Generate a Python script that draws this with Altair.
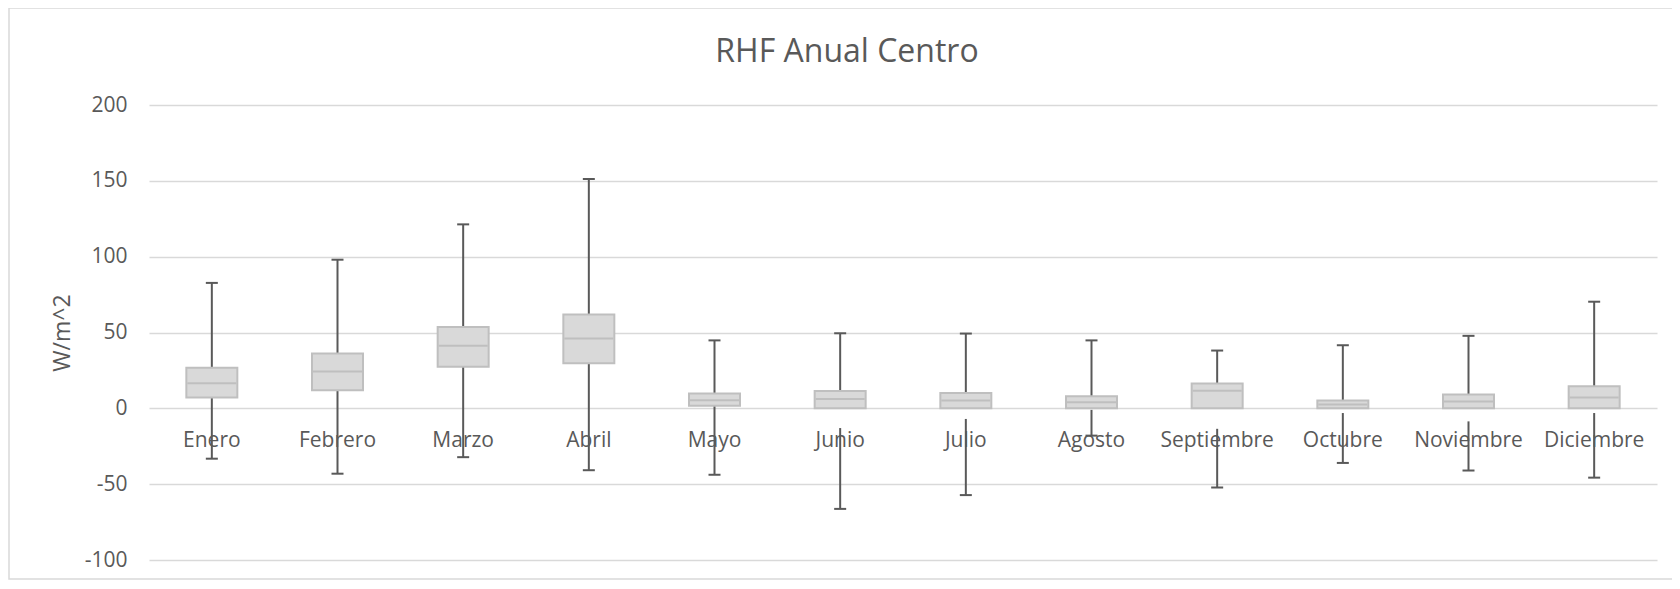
import altair as alt
import pandas as pd

months = ["Enero", "Febrero", "Marzo", "Abril", "Mayo", "Junio", "Julio",
          "Agosto", "Septiembre", "Octubre", "Noviembre", "Diciembre"]
maxs = [82.7, 98.0, 121.3, 151.2, 44.8, 49.5, 49.3, 44.8, 38.1, 41.6, 47.8, 70.3]
q3 = [26.7, 36.1, 53.7, 61.9, 9.7, 11.4, 10.1, 7.9, 16.3, 5.2, 9.2, 14.6]
medians = [16.6, 24.3, 41.3, 46.0, 5.4, 6.2, 5.2, 4.0, 11.6, 2.5, 4.5, 7.2]
q1 = [7.2, 11.9, 27.5, 29.7, 1.7, -13.0, -7.0, -1.0, -13.5, -3.1, -8.6, -3.1]
mins = [-33.2, -43.1, -32.2, -40.8, -43.8, -66.3, -57.2, -18.0, -52.2, -36.0, -41.0, -45.7]
y_ticks = [-100, -50, 0, 50, 100, 150, 200]

df = pd.DataFrame({"mes": months, "max": maxs, "q3": q3, "mediana": medians,
                   "q1": q1, "min": mins})

FONT = "Open Sans"
TXT = "#595959"
W, H = 1508, 455

x = alt.X("mes:N", sort=months, axis=None,
          scale=alt.Scale(paddingInner=0, paddingOuter=0))
yscale = alt.Scale(domain=[-100, 200], nice=False)

base = alt.Chart(df)

y_axis = alt.Axis(values=y_ticks, grid=True, gridColor="#D9D9D9", gridWidth=1.5,
                  domain=False, ticks=False, labelPadding=22, labelFontSize=21,
                  labelFont=FONT, labelColor=TXT, labelExpr="'' + datum.value",
                  title="W/m^2", titleFont=FONT,
                  titleFontSize=23, titleColor=TXT, titleFontWeight="normal",
                  titleX=-87, titleY=H / 2, titleBaseline="middle", titleAlign="center")

upper = base.mark_rule(color=TXT, strokeWidth=2).encode(
    x=x, y=alt.Y("q3:Q", scale=yscale, axis=y_axis), y2="max:Q")
lower = base.mark_rule(color=TXT, strokeWidth=2).encode(
    x=x, y=alt.Y("q1:Q", scale=yscale), y2="min:Q")
cap_top = base.mark_tick(color=TXT, size=12, thickness=2, opacity=1).encode(
    x=x, y=alt.Y("max:Q", scale=yscale))
cap_bot = base.mark_tick(color=TXT, size=12, thickness=2, opacity=1).encode(
    x=x, y=alt.Y("min:Q", scale=yscale))
box = base.transform_calculate(lo="max(datum.q1, 0)").mark_bar(
    size=51, fill="#D9D9D9", stroke="#BFBFBF", strokeWidth=2).encode(
    x=x, y=alt.Y("lo:Q", scale=yscale), y2="q3:Q")
med = base.mark_tick(color="#BFBFBF", size=49, thickness=2, opacity=1).encode(
    x=x, y=alt.Y("mediana:Q", scale=yscale))
labels = base.mark_text(font=FONT, fontSize=21, color=TXT, baseline="middle",
                        dy=33).encode(x=x, y=alt.datum(0), text="mes:N")

border = alt.Chart(pd.DataFrame({"a": [0]})).mark_rect(
    fill=None, stroke="#D9D9D9", strokeWidth=1.5).encode(
    x=alt.value(-140), x2=alt.value(W + 40), y=alt.value(-97), y2=alt.value(H + 19))

chart = alt.layer(border, upper, lower, cap_top, cap_bot, box, med, labels).properties(
    width=W, height=H,
    title=alt.TitleParams("RHF Anual Centro", font=FONT, fontSize=32, color=TXT,
                          fontWeight="normal", anchor="middle", frame="group",
                          dx=-56, baseline="middle", offset=-77),
    autosize=alt.AutoSizeParams(type="none"),
    padding={"left": 141, "top": 97, "right": 15, "bottom": 21},
).configure(background="white").configure_view(stroke=None)

chart.save("out.html", embed_options={"renderer": "svg", "actions": False})
